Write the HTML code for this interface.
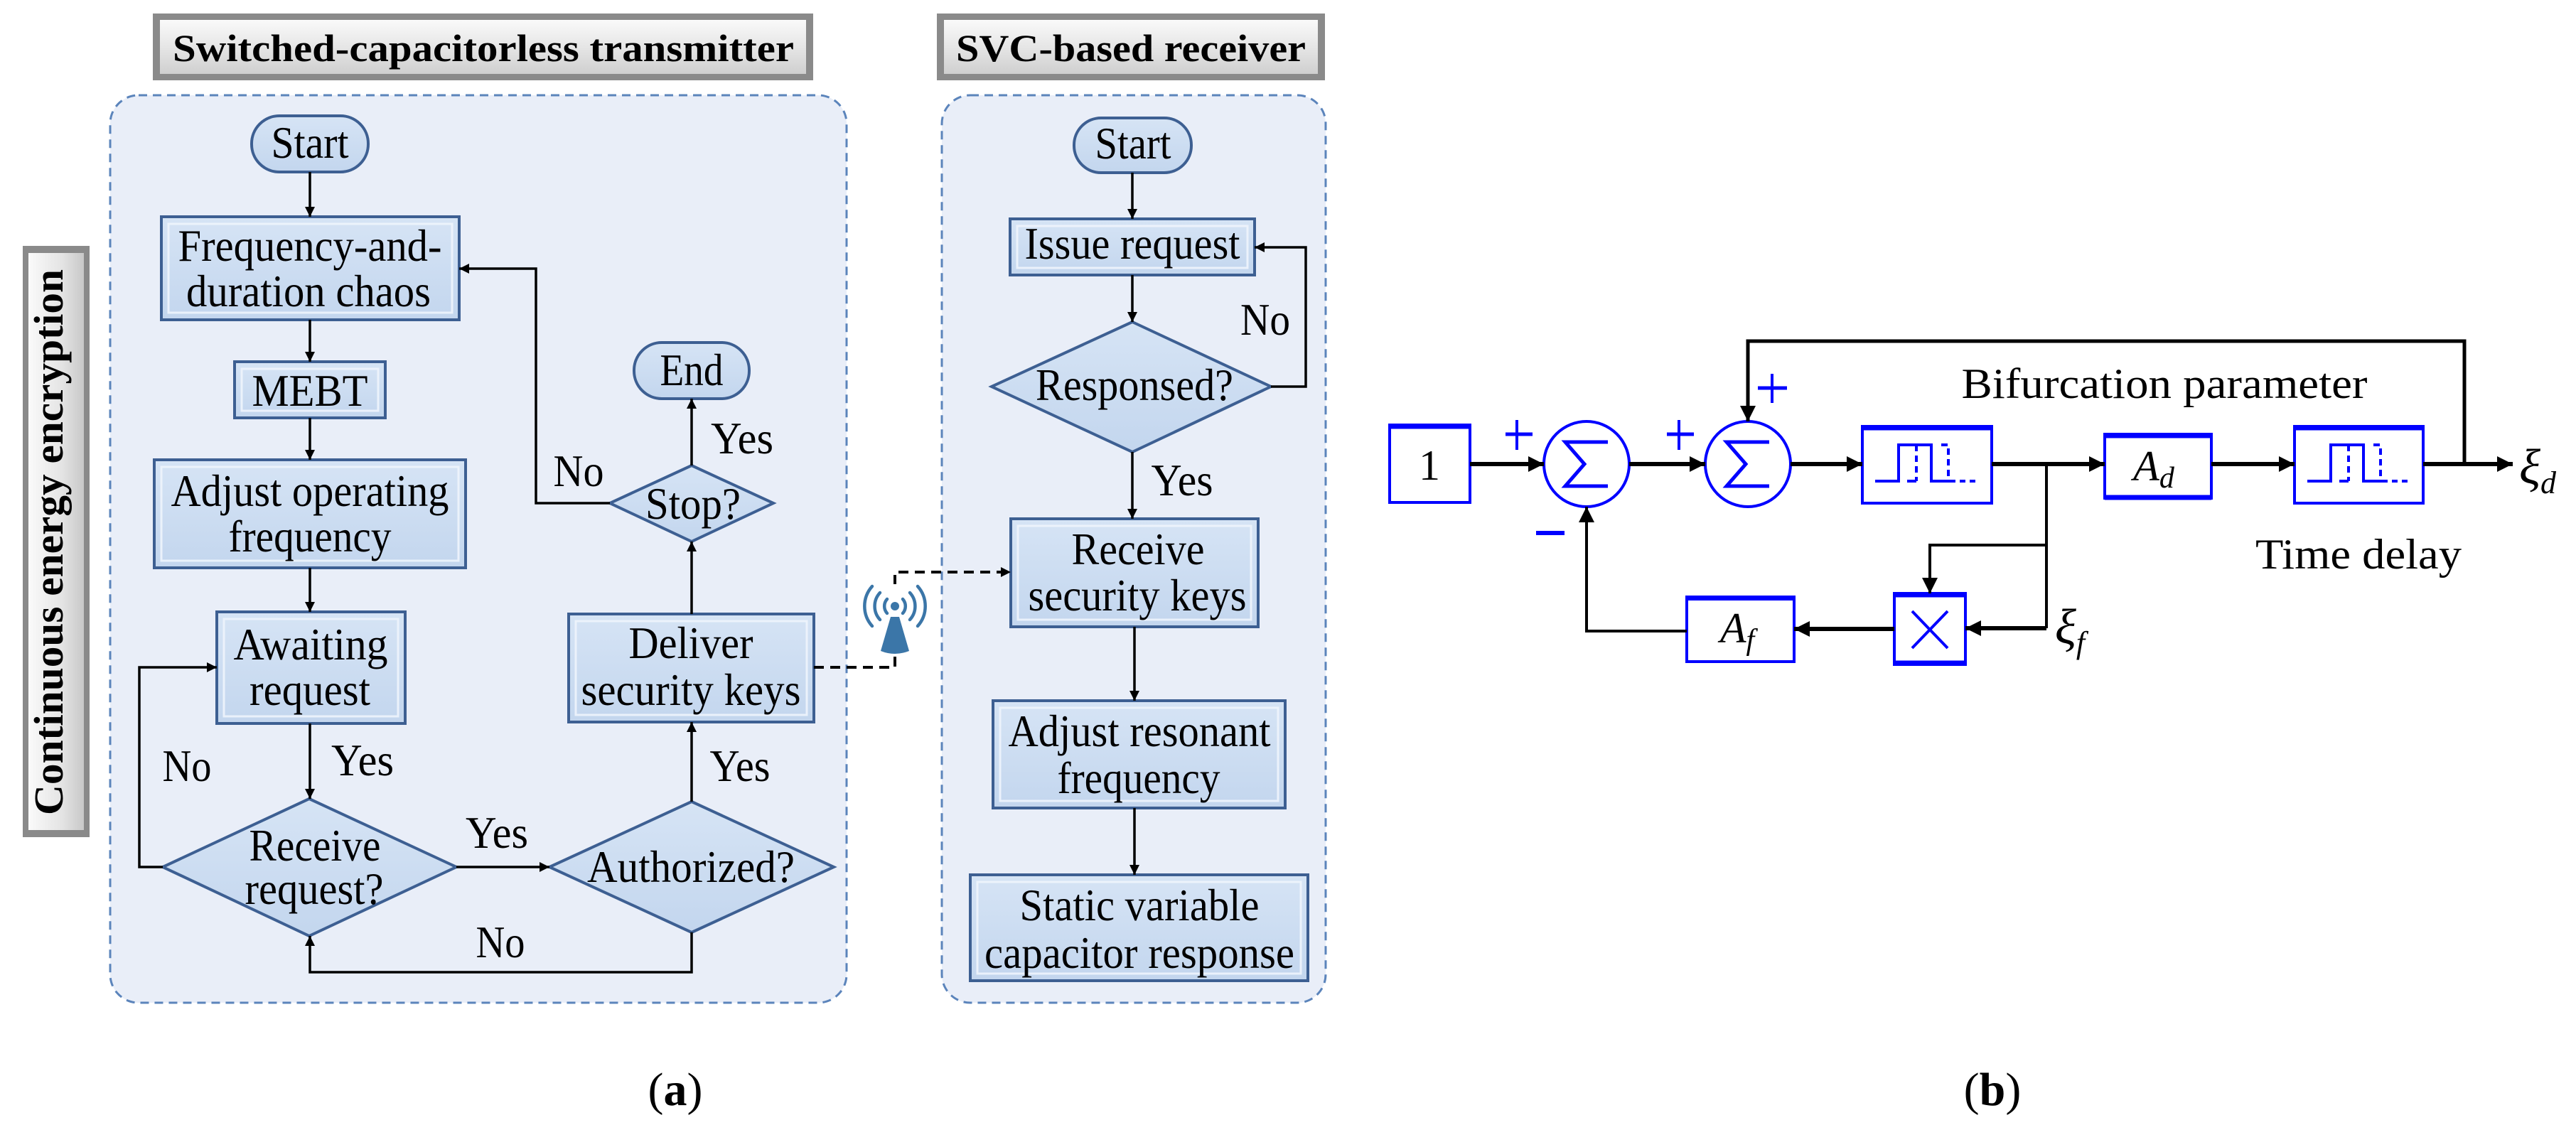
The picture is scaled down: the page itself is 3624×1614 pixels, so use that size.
<!DOCTYPE html>
<html><head><meta charset="utf-8"><style>
html,body{margin:0;padding:0;background:#fff;}
svg{display:block;}
svg, svg text{font-family:"Liberation Serif","Times New Roman",Times,"Nimbus Roman","DejaVu Serif",serif;}
</style></head><body>
<svg width="3624" height="1614" viewBox="0 0 3624 1614" xmlns="http://www.w3.org/2000/svg" font-family="'Liberation Serif','Times New Roman',Times,serif">
<defs>
<linearGradient id="hg" x1="0" y1="0" x2="0" y2="1"><stop offset="0" stop-color="#fafafa"/><stop offset="0.5" stop-color="#e6e6e6"/><stop offset="1" stop-color="#cfcfcf"/></linearGradient>
<linearGradient id="vg" x1="0" y1="0" x2="1" y2="0"><stop offset="0" stop-color="#fafafa"/><stop offset="0.6" stop-color="#e4e4e4"/><stop offset="1" stop-color="#c8c8c8"/></linearGradient>
<linearGradient id="bg" x1="0" y1="0" x2="0" y2="1"><stop offset="0" stop-color="#d6e4f5"/><stop offset="1" stop-color="#c3d6ee"/></linearGradient>
<marker id="ah" viewBox="0 0 10 10" refX="10" refY="5" markerWidth="14" markerHeight="20" markerUnits="userSpaceOnUse" orient="auto"><path d="M0,0 L10,5 L0,10 z" fill="#000"/></marker>
<marker id="ah2" viewBox="0 0 10 10" refX="10" refY="5" markerWidth="22" markerHeight="26" markerUnits="userSpaceOnUse" orient="auto"><path d="M0,0 L10,5 L0,10 z" fill="#000"/></marker>
<marker id="ah3" viewBox="0 0 10 10" refX="10" refY="5" markerWidth="26" markerHeight="22" markerUnits="userSpaceOnUse" orient="auto"><path d="M0,0 L10,5 L0,10 z" fill="#000"/></marker>
</defs>

<rect x="155" y="134" width="1036" height="1277" rx="40" fill="#e9eef8" stroke="#5b84bb" stroke-width="3" stroke-dasharray="12,8"/>
<rect x="1325" y="134" width="540" height="1277" rx="40" fill="#e9eef8" stroke="#5b84bb" stroke-width="3" stroke-dasharray="12,8"/>

<rect x="215" y="19" width="929" height="94" fill="#8a8a8a"/>
<rect x="225" y="28" width="909" height="76" fill="url(#hg)"/>
<text x="680" y="86" font-size="54" font-weight="bold" text-anchor="middle" textLength="874" lengthAdjust="spacingAndGlyphs">Switched-capacitorless transmitter</text>
<rect x="1318" y="19" width="546" height="94" fill="#8a8a8a"/>
<rect x="1328" y="28" width="526" height="76" fill="url(#hg)"/>
<text x="1591" y="86" font-size="54" font-weight="bold" text-anchor="middle" textLength="492" lengthAdjust="spacingAndGlyphs">SVC-based receiver</text>

<rect x="32" y="346" width="94" height="832" fill="#8a8a8a"/>
<rect x="40" y="356" width="78" height="812" fill="url(#vg)"/>
<text transform="translate(88,763) rotate(-90)" font-size="58" font-weight="bold" text-anchor="middle" textLength="768" lengthAdjust="spacingAndGlyphs">Continuous energy encryption</text>

<g stroke="#3d5f92" stroke-width="4" fill="url(#bg)">
<rect x="354" y="163" width="164" height="79" rx="39"/>
<rect x="892" y="482" width="162" height="79" rx="39"/>
<rect x="1511" y="166" width="165" height="77" rx="38"/>
<rect x="227" y="305" width="419" height="145"/>
<rect x="330" y="509" width="212" height="79"/>
<rect x="217" y="647" width="438" height="152"/>
<rect x="305" y="861" width="265" height="157"/>
<rect x="800" y="864" width="345" height="152"/>
<rect x="1421" y="308" width="344" height="79"/>
<rect x="1422" y="730" width="348" height="152"/>
<rect x="1397" y="986" width="411" height="151"/>
<rect x="1365" y="1231" width="475" height="149"/>
<polygon points="973,655 1088,708 973,762 858,708"/>
<polygon points="435,1124 642,1220 435,1317 229,1220"/>
<polygon points="973,1128 1173,1220 973,1312 773,1220"/>
<polygon points="1593,453 1788,544 1593,636 1395,544"/>
</g>
<g fill="none" stroke="#eef4fc" stroke-width="3" opacity="0.9">
<rect x="237" y="315" width="399" height="125"/>
<rect x="340" y="519" width="192" height="59"/>
<rect x="227" y="657" width="418" height="132"/>
<rect x="315" y="871" width="245" height="137"/>
<rect x="810" y="874" width="325" height="132"/>
<rect x="1431" y="318" width="324" height="59"/>
<rect x="1432" y="740" width="328" height="132"/>
<rect x="1407" y="996" width="391" height="131"/>
<rect x="1375" y="1241" width="455" height="129"/>
</g>

<g font-size="64" text-anchor="middle">
<text x="436" y="222" textLength="109" lengthAdjust="spacingAndGlyphs">Start</text>
<text x="436" y="367" textLength="371" lengthAdjust="spacingAndGlyphs">Frequency-and-</text>
<text x="434" y="431" textLength="344" lengthAdjust="spacingAndGlyphs">duration chaos</text>
<text x="436" y="571" textLength="163" lengthAdjust="spacingAndGlyphs">MEBT</text>
<text x="436" y="712" textLength="391" lengthAdjust="spacingAndGlyphs">Adjust operating</text>
<text x="436" y="776" textLength="229" lengthAdjust="spacingAndGlyphs">frequency</text>
<text x="973" y="542" textLength="89" lengthAdjust="spacingAndGlyphs">End</text>
<text x="975" y="730" textLength="134" lengthAdjust="spacingAndGlyphs">Stop?</text>
<text x="1044" y="638" textLength="88" lengthAdjust="spacingAndGlyphs">Yes</text>
<text x="814" y="684" textLength="71" lengthAdjust="spacingAndGlyphs">No</text>
<text x="437" y="928" textLength="217" lengthAdjust="spacingAndGlyphs">Awaiting</text>
<text x="436" y="992" textLength="170" lengthAdjust="spacingAndGlyphs">request</text>
<text x="972" y="926" textLength="175" lengthAdjust="spacingAndGlyphs">Deliver</text>
<text x="972" y="992" textLength="309" lengthAdjust="spacingAndGlyphs">security keys</text>
<text x="510" y="1091" textLength="88" lengthAdjust="spacingAndGlyphs">Yes</text>
<text x="263" y="1099" textLength="69" lengthAdjust="spacingAndGlyphs">No</text>
<text x="443" y="1211" textLength="185" lengthAdjust="spacingAndGlyphs">Receive</text>
<text x="442" y="1272" textLength="195" lengthAdjust="spacingAndGlyphs">request?</text>
<text x="699" y="1193" textLength="88" lengthAdjust="spacingAndGlyphs">Yes</text>
<text x="972" y="1241" textLength="292" lengthAdjust="spacingAndGlyphs">Authorized?</text>
<text x="1041" y="1099" textLength="85" lengthAdjust="spacingAndGlyphs">Yes</text>
<text x="704" y="1347" textLength="69" lengthAdjust="spacingAndGlyphs">No</text>
<text x="1594" y="223" textLength="107" lengthAdjust="spacingAndGlyphs">Start</text>
<text x="1593" y="364" textLength="303" lengthAdjust="spacingAndGlyphs">Issue request</text>
<text x="1596" y="563" textLength="278" lengthAdjust="spacingAndGlyphs">Responsed?</text>
<text x="1780" y="471" textLength="70" lengthAdjust="spacingAndGlyphs">No</text>
<text x="1663" y="697" textLength="87" lengthAdjust="spacingAndGlyphs">Yes</text>
<text x="1601" y="794" textLength="187" lengthAdjust="spacingAndGlyphs">Receive</text>
<text x="1600" y="859" textLength="307" lengthAdjust="spacingAndGlyphs">security keys</text>
<text x="1603" y="1050" textLength="369" lengthAdjust="spacingAndGlyphs">Adjust resonant</text>
<text x="1602" y="1116" textLength="229" lengthAdjust="spacingAndGlyphs">frequency</text>
<text x="1603" y="1295" textLength="337" lengthAdjust="spacingAndGlyphs">Static variable</text>
<text x="1603" y="1362" textLength="436" lengthAdjust="spacingAndGlyphs">capacitor response</text>
</g>

<g stroke="#000" stroke-width="3.5" fill="none" marker-end="url(#ah)">
<line x1="436" y1="242" x2="436" y2="305"/>
<line x1="436" y1="450" x2="436" y2="509"/>
<line x1="436" y1="588" x2="436" y2="647"/>
<line x1="436" y1="799" x2="436" y2="861"/>
<line x1="436" y1="1018" x2="436" y2="1124"/>
<line x1="642" y1="1220" x2="773" y2="1220"/>
<line x1="973" y1="1128" x2="973" y2="1016"/>
<line x1="973" y1="864" x2="973" y2="762"/>
<line x1="973" y1="655" x2="973" y2="561"/>
<polyline points="858,708 754,708 754,378 646,378"/>
<polyline points="229,1220 196,1220 196,939 305,939"/>
<polyline points="973,1312 973,1368 436,1368 436,1317"/>
<line x1="1593" y1="243" x2="1593" y2="308"/>
<line x1="1593" y1="387" x2="1593" y2="453"/>
<line x1="1593" y1="636" x2="1593" y2="730"/>
<polyline points="1788,544 1837,544 1837,348 1765,348"/>
<line x1="1596" y1="882" x2="1596" y2="986"/>
<line x1="1596" y1="1137" x2="1596" y2="1231"/>
<polyline points="1145,939 1259,939 1259,805 1422,805" stroke-dasharray="14,9" stroke-width="4"/>
</g>

<rect x="1244" y="822" width="30" height="100" fill="#fff"/>
<g fill="#3b76a8" stroke="none">
<circle cx="1259" cy="853" r="6"/>
<path d="M1253,868 L1265,868 L1279,916 Q1259,924 1239,916 Z"/>
</g>
<g fill="none" stroke="#3b76a8" stroke-width="4.5" stroke-linecap="round">
<path d="M1248,843 A15,15 0 0 0 1248,863"/><path d="M1270,843 A15,15 0 0 1 1270,863"/>
<path d="M1238,834 A28,28 0 0 0 1238,872"/><path d="M1280,834 A28,28 0 0 1 1280,872"/>
<path d="M1227,825 A42,42 0 0 0 1227,881"/><path d="M1291,825 A42,42 0 0 1 1291,881"/>
</g>

<text x="950" y="1555" font-size="66" text-anchor="middle">(<tspan font-weight="bold">a</tspan>)</text>
<text x="2803" y="1555" font-size="66" text-anchor="middle">(<tspan font-weight="bold">b</tspan>)</text>

<g fill="none" stroke="#0000ff" stroke-width="4">
<rect x="1955" y="598" width="113" height="109"/>
<line x1="1955" y1="600" x2="2068" y2="600" stroke-width="7"/>
<circle cx="2232" cy="653" r="60"/>
<circle cx="2459" cy="653" r="60"/>
<polyline points="2262,622 2202,622 2229,653 2202,684 2262,684" stroke-width="5"/>
<polyline points="2489,622 2429,622 2456,653 2429,684 2489,684" stroke-width="5"/>
<rect x="2620" y="600" width="182" height="108"/>
<line x1="2620" y1="602" x2="2802" y2="602" stroke-width="7"/>
<rect x="2961" y="611" width="150" height="90"/>
<line x1="2961" y1="613" x2="3111" y2="613" stroke-width="7"/>
<line x1="2961" y1="700" x2="3111" y2="700" stroke-width="7"/>
<rect x="3228" y="600" width="181" height="108"/>
<line x1="3228" y1="602" x2="3409" y2="602" stroke-width="7"/>
<rect x="2665" y="835" width="100" height="100"/>
<line x1="2665" y1="837" x2="2765" y2="837" stroke-width="7"/>
<line x1="2665" y1="933" x2="2765" y2="933" stroke-width="7"/>
<line x1="2690" y1="860" x2="2740" y2="912"/>
<line x1="2740" y1="860" x2="2690" y2="912"/>
<rect x="2373" y="840" width="151" height="91"/>
<line x1="2373" y1="842" x2="2524" y2="842" stroke-width="6"/>
<polyline points="2638,677 2671,677 2671,626 2717,626 2717,677 2743,677"/>
<line x1="2683" y1="677" x2="2696" y2="677"/>
<line x1="2696" y1="626" x2="2696" y2="677" stroke-dasharray="9,6"/>
<polyline points="2731,626 2741,626 2741,677" stroke-dasharray="9,6"/>
<line x1="2743" y1="677" x2="2784" y2="677" stroke-dasharray="8,6"/>
<polyline points="3246,677 3279,677 3279,626 3325,626 3325,677 3351,677"/>
<line x1="3291" y1="677" x2="3304" y2="677"/>
<line x1="3304" y1="626" x2="3304" y2="677" stroke-dasharray="9,6"/>
<polyline points="3339,626 3349,626 3349,677" stroke-dasharray="9,6"/>
<line x1="3351" y1="677" x2="3392" y2="677" stroke-dasharray="8,6"/>
<line x1="2118" y1="611" x2="2156" y2="611" stroke-width="5"/><line x1="2134" y1="591" x2="2134" y2="633" stroke-width="4"/>
<line x1="2345" y1="611" x2="2383" y2="611" stroke-width="5"/><line x1="2362" y1="591" x2="2362" y2="633" stroke-width="4"/>
<line x1="2473" y1="546" x2="2514" y2="546" stroke-width="5"/><line x1="2493" y1="526" x2="2493" y2="567" stroke-width="4"/>
<line x1="2161" y1="750" x2="2201" y2="750" stroke-width="6"/>
</g>
<g font-size="60" text-anchor="middle">
<text x="2011" y="675">1</text>
<text x="3030" y="676" font-style="italic">A<tspan font-size="42" dy="10">d</tspan></text>
<text x="2444" y="904" font-style="italic">A<tspan font-size="42" dy="10">f</tspan></text>
<text x="3045" y="560" textLength="571" lengthAdjust="spacingAndGlyphs">Bifurcation parameter</text>
<text x="3318" y="800" textLength="290" lengthAdjust="spacingAndGlyphs">Time delay</text>
<text x="3570" y="680" font-style="italic" font-size="70">ξ<tspan font-size="44" dy="14">d</tspan></text>
<text x="2912" y="905" font-style="italic" font-size="70">ξ<tspan font-size="44" dy="14">f</tspan></text>
</g>
<g stroke="#000" stroke-width="6" fill="none">
<line x1="2068" y1="653" x2="2172" y2="653" marker-end="url(#ah2)"/>
<line x1="2292" y1="653" x2="2399" y2="653" marker-end="url(#ah2)"/>
<line x1="2519" y1="653" x2="2620" y2="653" marker-end="url(#ah2)"/>
<line x1="2802" y1="653" x2="2961" y2="653" marker-end="url(#ah2)"/>
<line x1="3111" y1="653" x2="3228" y2="653" marker-end="url(#ah2)"/>
<line x1="3409" y1="653" x2="3535" y2="653" marker-end="url(#ah2)"/>
<line x1="2665" y1="885" x2="2524" y2="885" marker-end="url(#ah2)"/>
<polyline points="2879,884 2765,884" marker-end="url(#ah2)"/>
<polyline points="2373,888 2232,888 2232,713" stroke-width="4" marker-end="url(#ah3)"/>
<polyline points="3467,653 3467,480 2459,480 2459,593" stroke-width="5" marker-end="url(#ah3)"/>
<line x1="2879" y1="653" x2="2879" y2="884" stroke-width="4"/>
<polyline points="2879,767 2715,767 2715,835" stroke-width="4" marker-end="url(#ah3)"/>
</g>
</svg>
</body></html>
